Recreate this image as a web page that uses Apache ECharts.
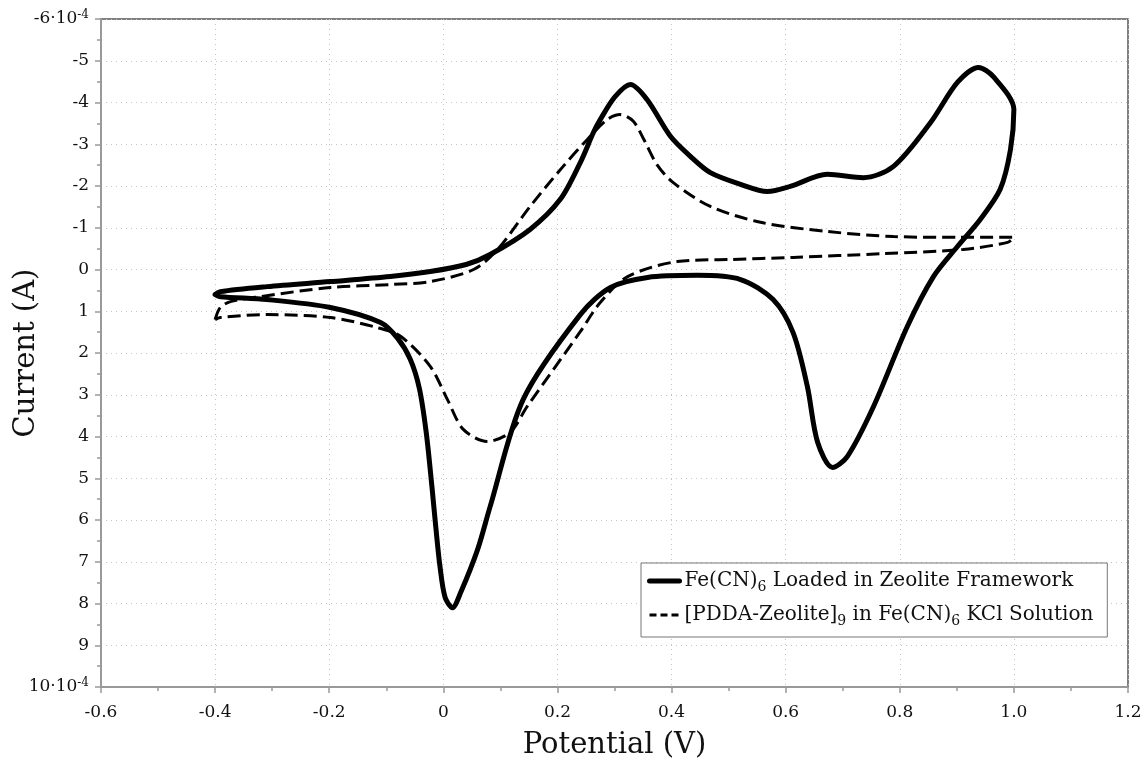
<!DOCTYPE html>
<html>
<head>
<meta charset="utf-8">
<script src="https://cdn.jsdelivr.net/npm/echarts@6/dist/echarts.min.js"></script>
<style>
  html, body { margin: 0; padding: 0; background: #fff; }
  #cv-chart { width: 1147px; height: 761px; }
</style>
</head>
<body>
<div id="cv-chart"></div>
<script>
// ---------------------- Data ----------------------
// potential in V, current in units of 1e-4 A (axis is inverted, cathodic down)
let loaded_name = "Fe(CN)6 Loaded in Zeolite Framework";
let loaded_potential = [
    -0.400, -0.391, -0.309, -0.198, -0.093, -0.023, 0.040, 0.082, 0.152, 0.205,
    0.240, 0.263, 0.275, 0.301, 0.328, 0.357, 0.398, 0.433, 0.468, 0.521,
    0.568, 0.608, 0.673, 0.736, 0.789, 0.854, 0.901, 0.938, 0.964, 1.000,
    0.994, 0.976, 0.941, 0.901, 0.859, 0.813, 0.754, 0.708, 0.682, 0.656,
    0.638, 0.613, 0.578, 0.521, 0.445, 0.358, 0.293, 0.240, 0.140, 0.082,
    0.060, 0.030, 0.016, 0.003, -0.006, -0.013, -0.020, -0.030, -0.042, -0.058,
    -0.080, -0.110, -0.198, -0.309, -0.391, -0.400
];
let loaded_current = [
    0.60, 0.53, 0.41, 0.29, 0.17, 0.05, -0.12, -0.36, -0.96, -1.68,
    -2.56, -3.28, -3.59, -4.14, -4.43, -4.07, -3.19, -2.71, -2.32, -2.04,
    -1.87, -1.99, -2.28, -2.20, -2.47, -3.52, -4.48, -4.84, -4.62, -3.83,
    -2.87, -1.92, -1.20, -0.55, 0.17, 1.37, 3.28, 4.48, 4.74, 4.14,
    2.80, 1.51, 0.72, 0.24, 0.14, 0.19, 0.43, 1.08, 3.11, 5.68,
    6.71, 7.75, 8.10, 7.85, 7.10, 6.20, 5.20, 3.90, 2.85, 2.15,
    1.65, 1.27, 0.91, 0.72, 0.65, 0.60
];
let solution_name = "[PDDA-Zeolite]9 in Fe(CN)6 KCl Solution";
let solution_potential = [
    -0.400, -0.391, -0.373, -0.321, -0.198, -0.093, -0.023, 0.053, 0.095, 0.152,
    0.210, 0.252, 0.287, 0.310, 0.333, 0.352, 0.375, 0.403, 0.468, 0.556,
    0.673, 0.789, 0.906, 1.000,
    0.989, 0.911, 0.771, 0.613, 0.503, 0.410, 0.323, 0.275, 0.240, 0.147,
    0.117, 0.077, 0.035, 0.007, -0.023, -0.075, -0.116, -0.198, -0.309, -0.391,
    -0.400
];
let solution_current = [
    1.20, 0.91, 0.77, 0.65, 0.43, 0.36, 0.29, 0.00, -0.48, -1.51,
    -2.47, -3.11, -3.59, -3.71, -3.55, -3.10, -2.50, -2.08, -1.51, -1.13,
    -0.91, -0.79, -0.77, -0.77,
    -0.65, -0.48, -0.38, -0.29, -0.24, -0.19, 0.17, 0.79, 1.49, 3.28,
    3.90, 4.12, 3.83, 3.11, 2.32, 1.60, 1.39, 1.15, 1.08, 1.15,
    1.20
];
let x_ticks = [-0.6, -0.4, -0.2, 0, 0.2, 0.4, 0.6, 0.8, 1.0, 1.2];
let y_ticks = [-6, -5, -4, -3, -2, -1, 0, 1, 2, 3, 4, 5, 6, 7, 8, 9, 10];

function zip_xy(xs, ys) {
    let out = [];
    for (let i = 0; i < xs.length; i++) out.push([xs[i], ys[i]]);
    return out;
}

// ---------------------- Chart ----------------------
let cv_chart_dom = document.getElementById("cv-chart");
let cv_chart = echarts.init(cv_chart_dom, null, {renderer: "canvas"});
let serif_font = "DejaVu Serif";

let cv_chart_grid = {
    left: 101,
    right: 19,
    top: 19,
    bottom: 74,
    containLabel: false,
    outerBoundsMode: "none",
    show: true,
    borderColor: "#555",
    borderWidth: 1.5,
    backgroundColor: "#fff"
};

let cv_chart_xAxis = {
    type: "value",
    min: x_ticks[0],
    max: x_ticks[x_ticks.length - 1],
    interval: 0.2,
    name: "Potential (V)",
    nameLocation: "middle",
    nameGap: 44,
    nameMoveOverlap: false,
    nameTextStyle: {fontFamily: serif_font, fontSize: 29, color: "#111"},
    axisLine: {show: true, onZero: false, lineStyle: {color: "#999", width: 2}},
    axisTick: {show: true, length: 6, lineStyle: {color: "#999", width: 1.5}},
    minorTick: {show: true, splitNumber: 2, length: 4, lineStyle: {color: "#999", width: 1.5}},
    axisLabel: {
        fontFamily: serif_font, fontSize: 17, color: "#111", margin: 17,
        formatter: function (v) {
            if (Math.abs(v) < 1e-9) return "0";
            return v.toFixed(1);
        }
    },
    splitLine: {show: true, lineStyle: {color: "#c4c4c4", type: [1, 4], width: 1}}
};

let cv_chart_yAxis = {
    type: "value",
    inverse: true,
    min: y_ticks[0],
    max: y_ticks[y_ticks.length - 1],
    interval: 1,
    name: "Current (A)",
    nameLocation: "middle",
    nameGap: 60,
    nameMoveOverlap: false,
    nameRotate: 90,
    nameTextStyle: {fontFamily: serif_font, fontSize: 29, color: "#111"},
    axisLine: {show: true, onZero: false, lineStyle: {color: "#999", width: 2}},
    axisTick: {show: true, length: 6, lineStyle: {color: "#999", width: 1.5}},
    minorTick: {show: true, splitNumber: 2, length: 4, lineStyle: {color: "#999", width: 1.5}},
    axisLabel: {
        fontFamily: serif_font, fontSize: 17, color: "#111", margin: 12,
        formatter: function (v) {
            if (v === y_ticks[0] || v === y_ticks[y_ticks.length - 1]) {
                return "{m|" + v + "·10}{sup|-4}";
            }
            return String(v);
        },
        rich: {
            m: {fontFamily: serif_font, fontSize: 17, color: "#111"},
            sup: {fontFamily: serif_font, fontSize: 12, color: "#111", verticalAlign: "top", padding: [0, 0, 9, 0]}
        }
    },
    splitLine: {show: true, lineStyle: {color: "#c4c4c4", type: [1, 4], width: 1}}
};

let cv_chart_series = [
    {
        name: loaded_name,
        type: "line",
        data: zip_xy(loaded_potential, loaded_current),
        showSymbol: false,
        symbol: "none",
        smooth: 0.3,
        lineStyle: {color: "#000", width: 5, type: "solid", join: "round", cap: "round"},
        itemStyle: {color: "#000"},
        z: 3
    },
    {
        name: solution_name,
        type: "line",
        data: zip_xy(solution_potential, solution_current),
        showSymbol: false,
        symbol: "none",
        smooth: 0.3,
        lineStyle: {color: "#000", width: 3, type: [13, 6]},
        itemStyle: {color: "#000"},
        z: 4
    }
];

let cv_chart_legend = {
    orient: "vertical",
    left: 641,
    top: 563,
    itemWidth: 30,
    itemHeight: 16,
    itemGap: 11,
    padding: [8, 14, 9, 6],
    backgroundColor: "#fff",
    borderColor: "#777",
    borderWidth: 1,
    borderRadius: 0,
    itemStyle: {opacity: 0},
    data: [
        {name: loaded_name, lineStyle: {width: 5}},
        {name: solution_name, lineStyle: {width: 3, type: [7, 4]}}
    ],
    formatter: function (name) {
        if (name === loaded_name) {
            return "{t|Fe(CN)}{s|6}{t| Loaded in Zeolite Framework}";
        }
        return "{t|[PDDA-Zeolite]}{s|9}{t| in Fe(CN)}{s|6}{t| KCl Solution}";
    },
    textStyle: {
        fontFamily: serif_font,
        fontSize: 20,
        color: "#111",
        rich: {
            t: {fontFamily: serif_font, fontSize: 20, color: "#111"},
            s: {fontFamily: serif_font, fontSize: 14, color: "#111", verticalAlign: "bottom", padding: [12, 0, 0, 0]}
        }
    }
};

let cv_chart_option = {
    backgroundColor: "#fff",
    animation: false,
    grid: cv_chart_grid,
    xAxis: cv_chart_xAxis,
    yAxis: cv_chart_yAxis,
    legend: cv_chart_legend,
    series: cv_chart_series,
    tooltip: {show: false}
};
if (cv_chart_option && typeof cv_chart_option === "object") {
    cv_chart.setOption(cv_chart_option, true);
}
</script>
</body>
</html>
